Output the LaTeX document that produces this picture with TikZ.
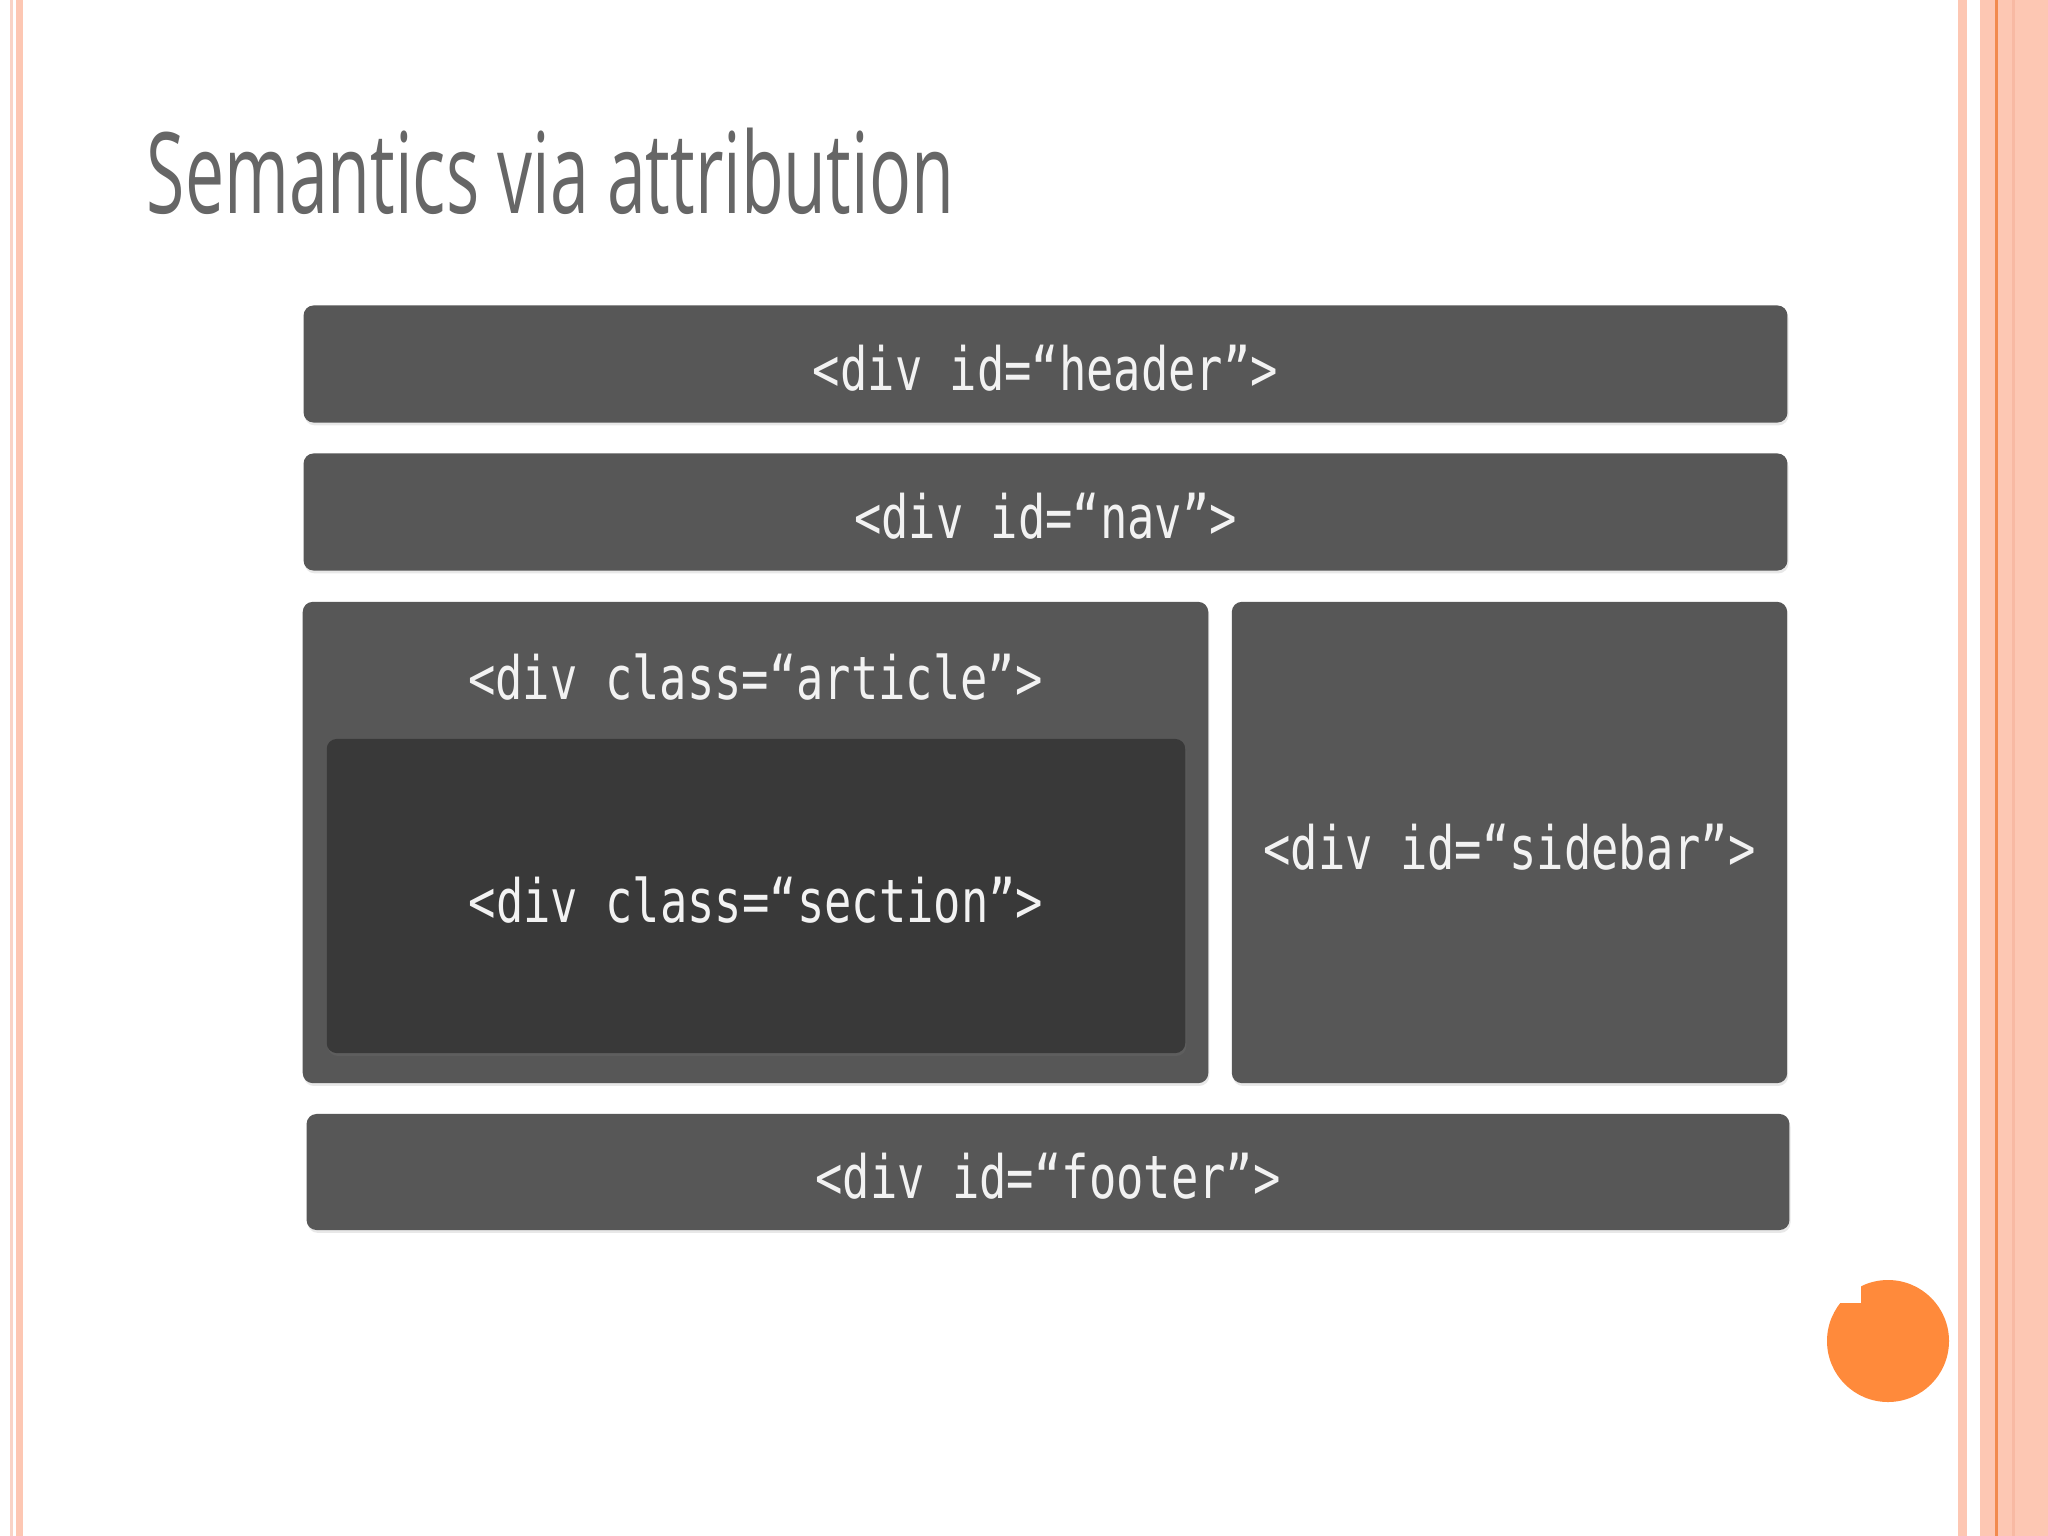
\documentclass[tikz,border=0pt]{standalone}
\usepackage{fontspec}
\usepackage{xcolor}
\usepackage{tikz}
\usetikzlibrary{
positioning,
shadows
}
\newfontfamily\titlefont[FakeStretch=0.62]{Open Sans}
\newfontfamily\codefont[FakeStretch=0.76]{DejaVu Sans Mono}
\definecolor{slidegray}{HTML}{666666}
\definecolor{divgray}{HTML}{575757}
\definecolor{divdark}{HTML}{393939}
\definecolor{divtext}{HTML}{F2F2F2}
\definecolor{stripepale}{HTML}{F9D3C6}
\definecolor{stripesalmon}{HTML}{FDC7B3}
\definecolor{stripedeep}{HTML}{F8B9A3}
\definecolor{stripeorange}{HTML}{F28A4E}
\definecolor{dotorange}{HTML}{FF8A3B}

\tikzset{
divbox/.style={fill=divgray, rounded corners=0.1cm, inner sep=0pt,
  text=divtext, font=\codefont\fontsize{17}{20}\selectfont,
  text height=0.53cm, text depth=0cm,
  drop shadow={opacity=0.18, shadow xshift=0.3pt, shadow yshift=-0.8pt}},
divlabel/.style={text=divtext, inner sep=0pt, font=\codefont\fontsize{17}{20}\selectfont}
}

\begin{document}
\begin{tikzpicture}[x=0.01cm, y=-0.01cm]

\useasboundingbox (0,0) rectangle (2048,1536);
\fill[white] (0,0) rectangle (2048,1536);

% Slide borders
\fill[stripepale] (10,0) rectangle (13,1536);
\fill[stripesalmon] (16,0) rectangle (23,1536);
\fill[stripesalmon] (1958,0) rectangle (1967,1536);
\fill[stripesalmon] (1980,0) rectangle (2048,1536);
\fill[stripeorange] (1995,0) rectangle (1998,1536);
\fill[stripedeep] (2012,0) rectangle (2015,1536);

% Title
\node[anchor=base west, inner sep=0pt, text=slidegray,
  font=\titlefont\fontsize{32}{38}\selectfont] (title) at (146,213)
  {Semantics via attribution};

% Page layout
\node[divbox, minimum width=14.83cm, minimum height=1.17cm] (header) at (1045.5,364)
  {<div id=“header”>};
\node[divbox, minimum width=14.83cm, minimum height=1.17cm] (nav) at (1045.5,512)
  {<div id=“nav”>};
\node[divbox, minimum width=9.05cm, minimum height=4.81cm] (article) at (755.5,842.5) {};
\node[divlabel] (articlelabel) at (755.5,677) {<div class=“article”>};
\node[divbox, fill=divdark, minimum width=8.58cm, minimum height=3.14cm] (section) at (756,896)
  {<div class=“section”>};
\node[divbox, minimum width=5.55cm, minimum height=4.81cm] (sidebar) at (1509.5,842.5)
  {<div id=“sidebar”>};
\node[divbox, minimum width=14.82cm, minimum height=1.16cm] (footer) at (1048,1172)
  {<div id=“footer”>};

% Corner dot
\fill[dotorange] (1888,1341) circle (61);
\fill[white] (1820,1270) rectangle (1861,1303);

\end{tikzpicture}
\end{document}
